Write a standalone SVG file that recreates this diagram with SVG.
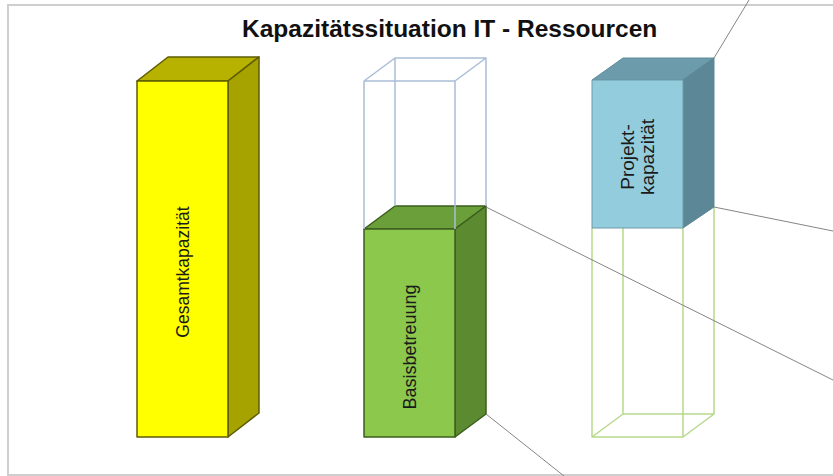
<svg xmlns="http://www.w3.org/2000/svg" width="833" height="476" viewBox="0 0 833 476">
  <style>
    .title { font-family: "Liberation Sans", Arial, sans-serif; font-weight: bold; font-size: 24.5px; fill: #111; }
    .lbl { font-family: "Liberation Sans", Arial, sans-serif; fill: #1a1a1a; text-anchor: middle; }
    .frame { fill: none; stroke: #cfcfcf; stroke-width: 2; }
    .conn { fill: none; stroke: #858585; stroke-width: 1; }
    .wire-blue { fill: none; stroke: #a9bdd6; stroke-width: 1.5; stroke-linejoin: round; }
    .wire-green { fill: none; stroke: #b7d98c; stroke-width: 1.5; stroke-linejoin: round; }
    .y-front { fill: #ffff00; stroke: #5e5c00; stroke-width: 1.5; stroke-linejoin: round; }
    .y-top { fill: #b7b100; stroke: #5e5c00; stroke-width: 1.5; stroke-linejoin: round; }
    .y-side { fill: #a6a200; stroke: #5e5c00; stroke-width: 1.5; stroke-linejoin: round; }
    .g-front { fill: #8cc84b; stroke: #3e5e1e; stroke-width: 1.5; stroke-linejoin: round; }
    .g-top { fill: #6b9f3a; stroke: #3e5e1e; stroke-width: 1.5; stroke-linejoin: round; }
    .g-side { fill: #5b8a30; stroke: #3e5e1e; stroke-width: 1.5; stroke-linejoin: round; }
    .b-front { fill: #93cddd; stroke: #6e9aa8; stroke-width: 1; stroke-linejoin: round; }
    .b-top { fill: #6c9bab; stroke: #5f8c9a; stroke-width: 1; stroke-linejoin: round; }
    .b-side { fill: #5b8796; stroke: #5b8796; stroke-width: 1; stroke-linejoin: round; }
  </style>
  <rect width="833" height="476" fill="#ffffff"/>
  <path class="frame" d="M834,5 H8 V475 H834"/>

  <text class="title" x="242" y="37">Kapazitätssituation IT - Ressourcen</text>

  <g id="gesamtkapazitaet">
    <polygon class="y-top" points="137,81 168,57 259,57 228,81"/>
    <polygon class="y-side" points="228,81 259,57 259,413 228,437"/>
    <rect class="y-front" x="137" y="81" width="91" height="356"/>
    <text class="lbl" font-size="17.5" transform="translate(189,272) rotate(-90)">Gesamtkapazität</text>
  </g>

  <g id="basisbetreuung">
    <polygon class="g-top" points="364,229 395,206 486,206 455,229"/>
    <polygon class="g-side" points="455,229 486,206 486,414 455,437"/>
    <rect class="g-front" x="364" y="229" width="91" height="208"/>
    <text class="lbl" font-size="18" transform="translate(416,347) rotate(-90)">Basisbetreuung</text>
  </g>

  <g id="rahmen-blau">
    <path class="wire-blue" d="M364,81 H455 V229 M364,81 V229 M364,81 L395,58 H486 L455,81 M395,58 V206 M486,58 V206"/>
  </g>

  <g id="rahmen-gruen">
    <path class="wire-green" d="M592,228 V437 H683 V228 M623,205 V414 H714 V207 M592,437 L623,414 M683,437 L714,414"/>
  </g>

  <g id="projektkapazitaet">
    <polygon class="b-top" points="592,80 623,58 714,58 683,80"/>
    <polygon class="b-side" points="683,80 714,58 714,207 683,228"/>
    <rect class="b-front" x="592" y="80" width="91" height="148"/>
    <text class="lbl" font-size="19" transform="translate(634,157) rotate(-90)">Projekt-</text>
    <text class="lbl" font-size="19" transform="translate(654,157) rotate(-90)">kapazität</text>
  </g>

  <g id="connectors">
    <line class="conn" x1="714" y1="58" x2="749" y2="0"/>
    <line class="conn" x1="714" y1="207" x2="833" y2="231"/>
    <line class="conn" x1="486" y1="207" x2="833" y2="380"/>
    <line class="conn" x1="486" y1="414" x2="564" y2="476"/>
  </g>
</svg>
